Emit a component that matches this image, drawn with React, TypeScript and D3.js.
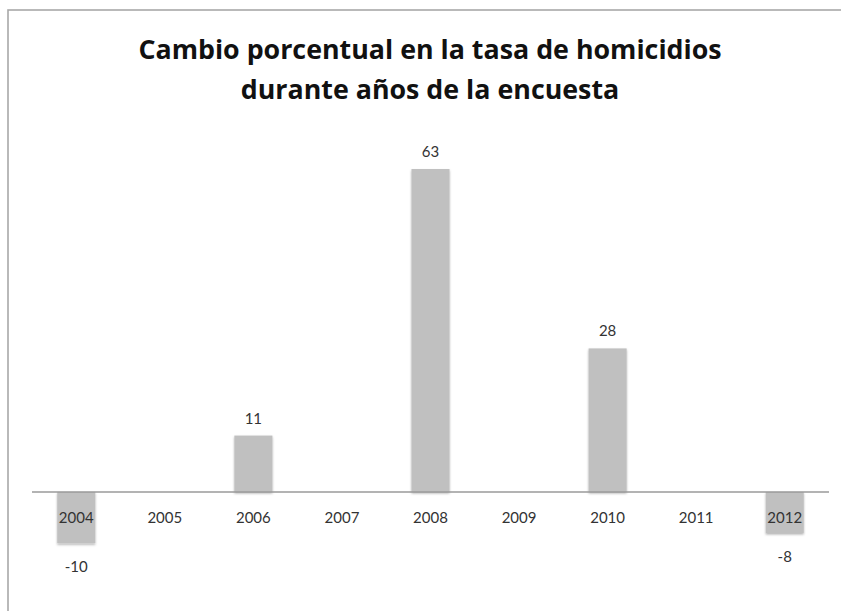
import React from "react";
import * as d3 from "d3";

const years: string[] = ["2004", "2005", "2006", "2007", "2008", "2009", "2010", "2011", "2012"];
const values: (number | null)[] = [-10, null, 11, null, 63, null, 28, null, -8];
const titleLines: string[] = ["Cambio porcentual en la tasa de homicidios", "durante años de la encuesta"];

const W = 841;
const H = 611;

export default function App() {
  const x = d3.scaleBand<string>().domain(years).range([32, 829]).paddingInner(0.57).paddingOuter(0.285);
  const y = d3.scaleLinear().domain([-20, 70]).range([594.5, 133.1]);
  const font = "Lato, 'Open Sans', sans-serif";
  const titleFont = "'Open Sans', Lato, sans-serif";
  const data = years.map((yr, i) => ({ yr, v: values[i] }));
  return (
    <svg width={W} height={H} style={{ position: "absolute", left: 0, top: 0, background: "#fff" }}>
      <defs>
        <filter id="sh" x="-20%" y="-20%" width="140%" height="140%">
          <feDropShadow dx="0" dy="1.5" stdDeviation="1.2" floodColor="#000" floodOpacity="0.3" />
        </filter>
      </defs>
      <rect x={0} y={0} width={W} height={H} fill="#fff" />
      <rect x={8} y={10} width={W + 20} height={H + 20} fill="none" stroke="#a8a8a8" strokeWidth={1.6} />
      {titleLines.map((t, i) => (
        <text key={t} x={430} y={59 + i * 40} textAnchor="middle" fontFamily={titleFont} fontWeight={700} fontSize={26.8} fill="#111">
          {t}
        </text>
      ))}
      <g filter="url(#sh)">
        {data.filter(d => d.v !== null).map(d => {
          const v = d.v as number;
          const y0 = y(0), y1 = y(v);
          return <rect key={d.yr} x={x(d.yr)} width={x.bandwidth()} y={Math.min(y0, y1)} height={Math.abs(y1 - y0)} fill="#c0c0c0" />;
        })}
      </g>
      <line x1={32} x2={829} y1={y(0)} y2={y(0)} stroke="#9a9a9a" strokeWidth={1.5} />
      {years.map(yr => (
        <text key={yr} x={(x(yr) as number) + x.bandwidth() / 2} y={523} textAnchor="middle" fontFamily={font} fontSize={15} fill="#333">
          {yr}
        </text>
      ))}
      {data.filter(d => d.v !== null).map(d => {
        const v = d.v as number;
        const ty = v >= 0 ? y(v) - 12 : y(v) + 29;
        return (
          <text key={"l" + d.yr} x={(x(d.yr) as number) + x.bandwidth() / 2} y={ty} textAnchor="middle" fontFamily={font} fontSize={15} fill="#333">
            {v}
          </text>
        );
      })}
    </svg>
  );
}
